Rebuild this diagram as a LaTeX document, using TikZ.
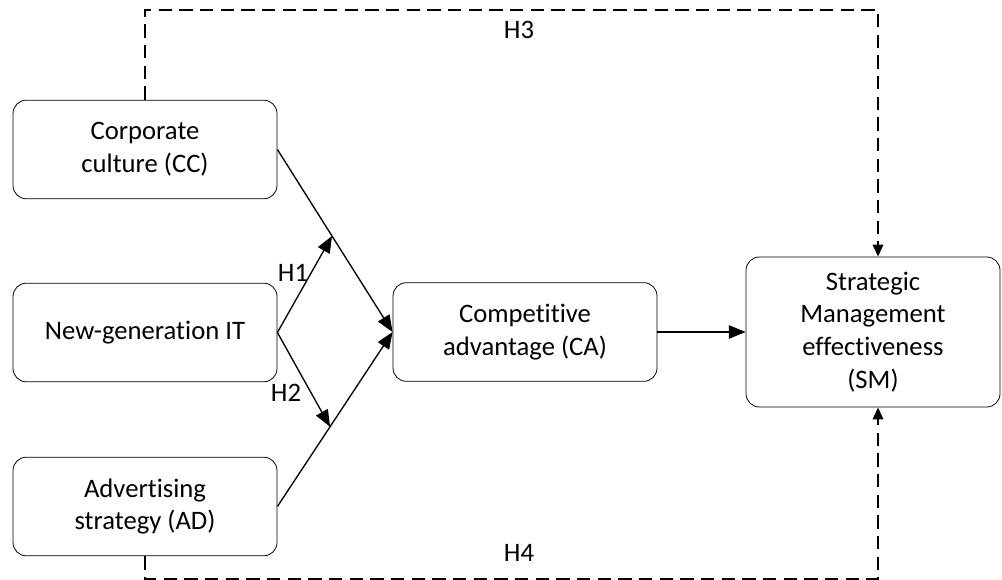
\documentclass[tikz,border=0pt]{standalone}
\usepackage{fontspec}
\setmainfont{Carlito}[Ligatures={NoCommon,NoContextual},RawFeature={-liga;-clig;-dlig;-rlig}]
\usetikzlibrary{arrows.meta,calc}
\begin{document}
\begin{tikzpicture}[x=0.75pt,y=-0.75pt,
  box/.style={draw,line width=0.6pt,rounded corners=10pt,align=center,
    minimum width=198pt,minimum height=74pt,inner sep=2pt,
    font=\fontsize{20}{24.5}\selectfont},
  arr/.style={line width=1pt,-{Triangle[length=12.5pt,width=10pt]}},
  darr/.style={line width=1pt,dash pattern=on 10pt off 5.5pt,-{Triangle[length=9pt,width=8pt]}},
  lbl/.style={font=\fontsize{20}{24.5}\selectfont,inner sep=0pt}]
\useasboundingbox (0,0) rectangle (1002,580);
\node[box] (CC) at (145,149.5) {Corporate\\culture (CC)};
\node[box] (NG) at (145,332.5) {New-generation IT};
\node[box] (AD) at (145,506.5) {Advertis\kern0pt ing\\strategy (AD)};
\node[box] (CA) at (525,332) {Competit\kern0pt ive\\advantage (CA)};
\node[box,minimum width=190.5pt,minimum height=112.5pt] (SM) at (873,332)
  {Strategic\\Management\\effect\kern0pt iveness\\(SM)};
\draw[arr] (CC.east) -- (CA.west);
\draw[arr] (AD.east) -- (CA.west);
\coordinate (h1) at ($(CC.east)!0.474!(CA.west)$);
\coordinate (h2) at ($(AD.east)!0.457!(CA.west)$);
\draw[arr] (NG.east) -- (h1);
\draw[arr] (NG.east) -- (h2);
\draw[arr] (CA.east) -- (SM.west);
\coordinate (t1) at (145,10);
\coordinate (t2) at (878,10);
\coordinate (b1) at (145,579);
\coordinate (b2) at (878,579);
\draw[darr] (CC.north) -- (t1) -- (t2) -- (SM.north -| t2);
\draw[darr] (AD.south) -- (b1) -- (b2) -- (SM.south -| b2);
\node[lbl] (H1) at (293,273) {H1};
\node[lbl] (H2) at (286,393) {H2};
\node[lbl] (H3) at (519,30) {H3};
\node[lbl] (H4) at (519,553) {H4};
\end{tikzpicture}
\end{document}
